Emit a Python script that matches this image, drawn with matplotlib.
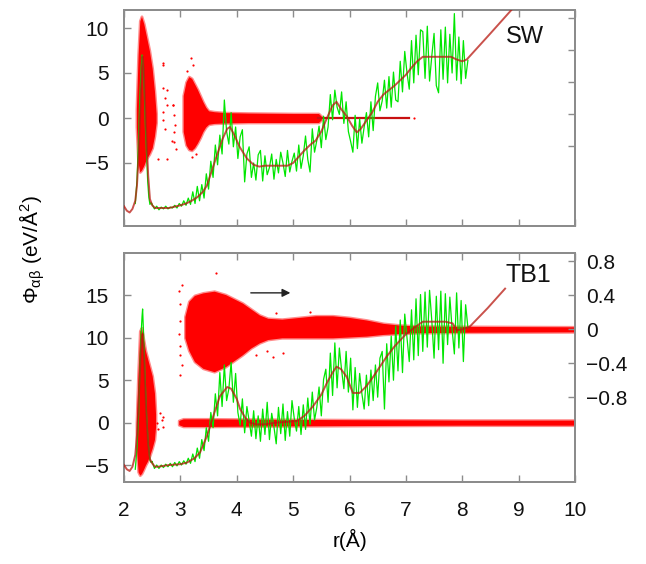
import numpy as np
import matplotlib
matplotlib.use('Agg')
import matplotlib.pyplot as plt

plt.rcParams['font.family'] = ['Liberation Sans', 'DejaVu Sans']
plt.rcParams['mathtext.fontset'] = 'custom'
plt.rcParams['mathtext.rm'] = 'Liberation Sans'
plt.rcParams['mathtext.it'] = 'Liberation Sans'
plt.rcParams['mathtext.bf'] = 'Liberation Sans:bold'
plt.rcParams['axes.unicode_minus'] = True

# ---------------- data: top panel (SW) ----------------
sw_smooth_x = [2.00, 2.05, 2.10, 2.15, 2.20, 2.23, 2.26, 2.29, 2.31, 2.33, 2.35, 2.37, 2.40, 2.43, 2.46,
               2.50, 2.55, 2.60, 2.80, 3.00, 3.10, 3.20, 3.30, 3.40, 3.47, 3.55, 3.65, 3.75, 3.83, 3.88,
               3.95, 4.05, 4.18, 4.30, 4.40, 4.50, 4.70, 4.90, 5.00, 5.10, 5.20, 5.30, 5.40, 5.50, 5.60,
               5.70, 5.77, 5.85, 5.95, 6.05, 6.13, 6.20, 6.30, 6.40, 6.50, 6.60, 6.70, 6.80, 6.90, 7.00,
               7.10, 7.20, 7.30, 7.40, 7.60, 7.80, 7.90, 8.00, 8.08, 8.50, 8.90, 9.00]
sw_smooth_y = [-9.8, -10.3, -10.5, -10.1, -9.2, -7.5, -4.0, 1.0, 4.5, 6.8, 5.5, 2.5, -2.5, -6.5, -9.0,
               -9.7, -10.0, -10.0, -10.0, -9.7, -9.5, -9.2, -8.8, -8.2, -7.5, -6.0, -4.1, -2.3, -1.2, -1.0,
               -1.8, -3.2, -4.5, -5.2, -5.4, -5.3, -5.3, -5.3, -5.0, -4.3, -3.6, -3.0, -2.5, -1.5, 0.0,
               1.4, 1.8, 1.0, 0.2, -0.9, -1.6, -1.2, -0.3, 0.6, 1.8, 2.6, 3.1, 3.6, 4.2, 4.8,
               5.6, 6.3, 6.8, 6.8, 6.8, 6.8, 6.5, 6.3, 6.5, 9.4, 12.2, 13.0]

sw_green_spike_x = [2.20, 2.23, 2.26, 2.28, 2.30, 2.32, 2.34, 2.36, 2.38, 2.40, 2.42, 2.44, 2.46, 2.48, 2.50]
sw_green_spike_y = [-9.5, -7.0, -2.0, 2.0, 5.0, 7.0, 6.0, 3.0, -1.0, -4.0, -7.0, -8.8, -9.6, -9.4, -9.6]

sw_green_y = [-9.6, -10.1, -9.8, -10.2, -9.9, -10.1, -9.8, -10.1, -9.9, -10.0,
              -9.7, -10.0, -9.5, -9.8, -9.2, -9.7, -8.9, -9.6, -8.2, -9.5,
              -7.6, -9.2, -7.4, -8.9, -6.2, -7.9, -4.8, -6.6, -3.0, -5.2,
              -1.9, -4.0, 2.0, -1.5, -2.9, 0.6, -3.2, -1.0, -4.5, -2.1,
              -1.3, -7.1, -4.0, -3.2, -6.6, -5.0, -6.9, -4.1, -3.6, -7.0,
              -4.2, -6.3, -5.5, -4.0, -6.8, -4.6, -6.1, -3.8, -5.0, -6.5,
              -3.6, -6.0, -4.8, -3.9, -5.9, -3.0, -5.6, -4.2, -2.0, -4.6,
              -6.0, -1.2, -3.8, -2.5, -0.9, -3.3, 0.2, -2.4, -1.0, 2.6,
              -0.2, 3.1, 1.2, 0.4, 2.9, -0.6, 1.8, -1.5, -2.6, -3.8,
              0.3, -3.4, -0.1, -2.8, -1.0, 0.6, -2.1, 1.8, -1.4, 2.4,
              3.9, 0.8, 1.9, 4.2, 1.1, 4.6, 1.2, 5.1, 2.0, 1.8,
              6.3, 2.9, 7.4, 5.0, 3.2, 8.6, 3.9, 9.2, 4.8, 9.8,
              9.6, 4.4, 10.2, 4.1, 6.9, 9.4, 3.6, 2.8, 9.8, 4.3,
              10.1, 3.9, 9.3, 5.0, 11.6, 4.2, 9.0, 3.8, 8.6, 4.4,
              6.4]
sw_green_range = (2.50, 8.10)

# red point clouds (envelopes)
sw_cloud1_x = [2.22, 2.25, 2.28, 2.31, 2.35, 2.40, 2.45, 2.50, 2.54, 2.57]
sw_cloud1_hi = [1.0, 7.0, 10.8, 11.3, 10.5, 9.0, 7.5, 5.5, 3.0, 0.5]
sw_cloud1_lo = [-1.0, -5.0, -6.0, -5.8, -5.3, -4.5, -4.0, -3.3, -2.0, -0.5]

sw_cloud2_x = [3.05, 3.10, 3.15, 3.20, 3.25, 3.30, 3.35, 3.40, 3.45, 3.50, 3.60, 3.80, 4.20, 5.00, 5.45, 5.50]
sw_cloud2_hi = [2.5, 4.0, 4.6, 4.4, 3.8, 3.2, 2.5, 1.8, 1.2, 0.8, 0.7, 0.6, 0.55, 0.5, 0.5, 0.2]
sw_cloud2_lo = [-1.5, -3.0, -3.5, -3.6, -3.3, -2.8, -2.2, -1.5, -1.0, -0.7, -0.6, -0.55, -0.5, -0.5, -0.5, -0.2]

sw_tail_x = [5.45, 7.05]
sw_tail_y = [0.0, 0.0]

sw_dots_x = [2.70, 2.69, 2.76, 2.70, 2.69, 2.73, 2.87, 2.89, 2.90, 2.86, 2.76, 2.93, 3.18, 3.22, 3.20,
             2.69, 2.76, 2.87, 2.89, 2.60, 7.15, 2.72, 2.88, 3.12, 3.27]
sw_dots_y = [5.9, 3.3, 1.5, 0.7, -0.2, -1.2, 1.5, 0.3, -0.8, -2.6, -4.5, -3.4, 6.7, 5.9, -4.3,
             6.1, 3.1, 1.5, -2.7, -4.5, 0.0, 2.2, -1.6, 5.2, -4.0]

# ---------------- data: bottom panel (TB1) ----------------
tb_smooth_x = [2.00, 2.05, 2.10, 2.15, 2.20, 2.23, 2.26, 2.29, 2.31, 2.33, 2.35, 2.37, 2.40, 2.43, 2.46,
               2.50, 2.55, 2.60, 2.80, 3.00, 3.12, 3.25, 3.35, 3.47, 3.58, 3.70, 3.83, 3.90, 4.00, 4.06,
               4.15, 4.23, 4.35, 4.50, 4.70, 4.90, 5.07, 5.20, 5.35, 5.50, 5.60, 5.70, 5.77, 5.85, 5.95,
               6.06, 6.18, 6.30, 6.42, 6.55, 6.66, 6.80, 7.01, 7.15, 7.30, 7.50, 7.70, 7.83, 7.90, 8.00,
               8.13, 8.45, 8.76]
tb_smooth_y = [-5.0, -5.5, -5.7, -5.2, -3.8, -1.5, 2.5, 7.0, 9.8, 10.5, 8.5, 5.0, 0.5, -2.8, -4.3,
               -4.8, -5.2, -5.2, -5.0, -4.9, -4.7, -4.2, -3.5, -1.6, 0.7, 3.1, 4.2, 4.0, 2.8, 1.6,
               0.6, 0.0, -0.2, -0.2, 0.0, 0.1, 0.2, 0.8, 1.9, 3.3, 4.7, 5.9, 6.6, 6.3, 5.4,
               3.5, 3.5, 4.3, 5.4, 6.7, 7.8, 9.0, 10.5, 11.2, 11.9, 11.9, 11.9, 11.7, 10.9, 11.0,
               11.3, 13.5, 15.8]

tb_green_spike_x = [2.20, 2.23, 2.26, 2.28, 2.30, 2.32, 2.33, 2.35, 2.37, 2.40, 2.43, 2.46, 2.48, 2.50]
tb_green_spike_y = [-5.5, -3.0, 1.0, 6.0, 10.0, 12.5, 13.4, 10.0, 6.0, 1.0, -2.5, -4.4, -4.7, -4.6]

tb_green_y = [-4.6, -5.4, -5.0, -5.4, -5.0, -5.3, -4.9, -5.2, -4.8, -5.2,
              -4.7, -5.1, -4.6, -5.0, -4.5, -4.9, -4.2, -4.8, -3.7, -4.6,
              -3.0, -4.2, -2.0, -3.3, -0.6, -2.2, 1.2, -0.6, 3.4, 0.8,
              5.9, 1.9, 6.8, 2.6, 4.0, 7.1, 2.4, 5.8, 1.2, -0.3,
              2.8, -1.2, 1.9, 0.2, -1.6, 1.4, -1.9, 0.8, -2.2, 1.6,
              -1.4, 2.4, -2.0, 1.1, -0.5, -2.5, 1.8, -1.3, 2.2, -2.1,
              1.3, -1.6, 2.6, 0.5, -1.0, 1.9, -1.4, 2.1, -0.8, 2.9,
              -0.2, 3.6, 0.3, 1.8, 4.2, 0.8, 5.1, 6.3, 2.4, 8.2,
              3.2, 9.4, 4.1, 8.8, 6.2, 4.0, 8.4, 3.6, 7.6, 1.5,
              6.5, 1.8, 5.8, 3.4, 1.6, 5.6, 2.0, 6.2, 2.6, 6.8,
              3.0, 7.6, 8.4, 1.6, 9.3, 4.8, 10.2, 5.0, 11.4, 6.1,
              12.1, 5.9, 12.8, 10.0, 7.2, 13.3, 7.4, 14.6, 7.9, 15.1,
              8.4, 15.4, 8.9, 15.6, 12.0, 7.6, 14.9, 8.6, 15.5, 7.0,
              15.2, 9.2, 14.8, 11.0, 8.1, 15.3, 8.8, 14.4, 7.2, 13.9,
              11.2]
tb_green_range = (2.50, 8.10)

tb_cloud1_x = [2.22, 2.25, 2.28, 2.31, 2.34, 2.38, 2.42, 2.46, 2.50, 2.54, 2.56]
tb_cloud1_hi = [0.0, 6.0, 10.8, 11.2, 10.0, 8.5, 7.5, 6.5, 5.5, 3.5, 1.0]
tb_cloud1_lo = [-3.0, -5.8, -6.2, -6.0, -5.6, -5.0, -4.5, -3.8, -3.0, -2.0, -0.5]

tb_band_x = [2.97, 3.05, 3.50, 4.50, 6.00, 8.00, 10.0]
tb_band_hi = [0.25, 0.45, 0.45, 0.4, 0.35, 0.3, 0.3]
tb_band_lo = [-0.25, -0.45, -0.45, -0.4, -0.35, -0.3, -0.3]

# big cloud, right-hand axis units
tb_cloud2_x = [3.08, 3.15, 3.25, 3.40, 3.60, 3.80, 3.95, 4.10, 4.25, 4.40, 4.55, 4.80, 5.10, 5.40,
               5.70, 6.00, 6.30, 6.60, 6.90, 7.20, 8.00, 10.0]
tb_cloud2_hi = [0.15, 0.33, 0.40, 0.43, 0.45, 0.41, 0.36, 0.31, 0.24, 0.17, 0.13, 0.12, 0.14, 0.16,
                0.16, 0.14, 0.11, 0.07, 0.05, 0.04, 0.035, 0.03]
tb_cloud2_lo = [-0.10, -0.25, -0.38, -0.46, -0.50, -0.44, -0.37, -0.30, -0.22, -0.16, -0.12, -0.10,
                -0.10, -0.10, -0.10, -0.09, -0.08, -0.06, -0.05, -0.04, -0.035, -0.03]

tb_dots_x = [2.64, 2.67, 2.70, 2.61, 2.70, 2.59]
tb_dots_y = [1.1, 0.3, -0.5, -0.8, 0.7, 0.0]
tb_rdots_x = [2.98, 2.99, 3.00, 2.98, 3.00, 2.99, 3.64, 2.99, 4.53, 4.65, 4.82, 4.70, 5.30, 4.35, 3.03, 3.02]
tb_rdots_y = [0.45, 0.30, 0.10, -0.05, -0.20, -0.30, 0.66, -0.54, -0.25, -0.33, -0.28, 0.19, 0.20, -0.30,
              0.52, -0.42]

left_ticks_top = [-5, 0, 5, 10]
left_ticks_bot = [-5, 0, 5, 10, 15]
right_ticks = [-0.8, -0.4, 0, 0.4, 0.8]
right_labels = ['\u22120.8', '\u22120.4', '0', '0.4', '0.8']
x_ticks = [2, 3, 4, 5, 6, 7, 8, 9, 10]

# ---------------- styling ----------------
RED = '#ff0000'
FUZZ = (1.0, 0.0, 0.0, 0.45)
GREEN = '#00e600'
SMOOTH = '#b81810'
GREY = '#8c8c8c'
FS = 15

fig = plt.figure(figsize=(6.46, 5.64), dpi=100)
W, H = 646.0, 564.0
ax1 = fig.add_axes([124 / W, 1 - 226 / H, 451 / W, 216 / H])
ax2 = fig.add_axes([124 / W, 1 - 482 / H, 451 / W, 229 / H])


def style(ax):
    for s in ax.spines.values():
        s.set_color(GREY)
        s.set_linewidth(1.4)
    ax.tick_params(which='both', direction='in', length=5, width=1, color=GREY,
                   labelsize=FS, labelcolor='#111111', pad=11)


def cloud(ax, x, lo, hi, **kw):
    ax.fill_between(x, lo, hi, facecolor=RED, edgecolor=FUZZ, linewidth=2.0, **kw)


# ---- top panel ----
ax1r = ax1.twinx()
ax1.set_zorder(2)
ax1.patch.set_visible(False)
ax1r.set_zorder(1)

cloud(ax1, sw_cloud1_x, sw_cloud1_lo, sw_cloud1_hi, zorder=1)
cloud(ax1, sw_cloud2_x, sw_cloud2_lo, sw_cloud2_hi, zorder=1)
ax1.plot(sw_tail_x, sw_tail_y, color='#c81010', lw=1.6, zorder=1)
ax1.scatter(sw_dots_x, sw_dots_y, s=2.5, color=RED, lw=0, zorder=1)
gx = np.linspace(sw_green_range[0], sw_green_range[1], len(sw_green_y))
ax1.plot(sw_green_spike_x, sw_green_spike_y, color=GREEN, lw=0.9, zorder=2)
ax1.plot(gx, sw_green_y, color=GREEN, lw=0.9, zorder=2)
ax1.plot(sw_smooth_x, sw_smooth_y, color=SMOOTH, alpha=0.75, lw=1.4, zorder=3)

ax1.set_xlim(2, 10)
ax1.set_ylim(-12, 12)
ax1.set_xticks(x_ticks)
ax1.set_yticks(left_ticks_top)
style(ax1)
ax1.tick_params(axis='x', top=True, bottom=True, labelbottom=False)
ax1.tick_params(axis='y', right=False)
ax1r.set_ylim(-1.8, 0.9)
ax1r.set_yticks(right_ticks)
ax1r.set_yticklabels([])
style(ax1r)
ax1.text(9.11, 9.0, 'SW', fontsize=17, ha='center', va='center', color='#111111', zorder=5)

# ---- bottom panel ----
ax2r = ax2.twinx()
ax2.set_zorder(2)
ax2.patch.set_visible(False)
ax2r.set_zorder(1)

cloud(ax2r, tb_cloud2_x, tb_cloud2_lo, tb_cloud2_hi)
ax2r.scatter(tb_rdots_x, tb_rdots_y, s=2.5, color=RED, lw=0)
cloud(ax2, tb_cloud1_x, tb_cloud1_lo, tb_cloud1_hi, zorder=1)
cloud(ax2, tb_band_x, tb_band_lo, tb_band_hi, zorder=1)
ax2.scatter(tb_dots_x, tb_dots_y, s=2.5, color=RED, lw=0, zorder=1)
gx2 = np.linspace(tb_green_range[0], tb_green_range[1], len(tb_green_y))
ax2.plot(tb_green_spike_x, tb_green_spike_y, color=GREEN, lw=0.9, zorder=2)
ax2.plot(gx2, tb_green_y, color=GREEN, lw=0.9, zorder=2)
ax2.plot(tb_smooth_x, tb_smooth_y, color=SMOOTH, alpha=0.75, lw=1.4, zorder=3)

ax2.set_xlim(2, 10)
ax2.set_ylim(-7, 20)
ax2.set_xticks(x_ticks)
ax2.set_yticks(left_ticks_bot)
style(ax2)
ax2.tick_params(axis='x', top=True, bottom=True)
ax2.tick_params(axis='y', right=False)
ax2.tick_params(axis='x', pad=14)
ax2r.set_ylim(-1.8, 0.9)
ax2r.set_yticks(right_ticks)
ax2r.set_yticklabels(right_labels)
style(ax2r)
ax2r.tick_params(axis='y', pad=8)
ax2.text(9.18, 17.4, 'TB1', fontsize=18, ha='center', va='center', color='#111111', zorder=5)
ax2.annotate('', xy=(5.0, 15.3), xytext=(4.2, 15.3),
             arrowprops=dict(arrowstyle='-|>', color='#222222', lw=1.0, mutation_scale=12), zorder=5)

ax2.set_xlabel('r(\u00c5)', fontsize=FS, labelpad=6)
fig.text(32 / W, 1 - 250 / H, '$\\Phi_{\\alpha\\beta}$ (eV/\u00c5$^2$)', rotation=90,
         fontsize=FS, ha='center', va='center')

fig.savefig('out.png', dpi=100)
